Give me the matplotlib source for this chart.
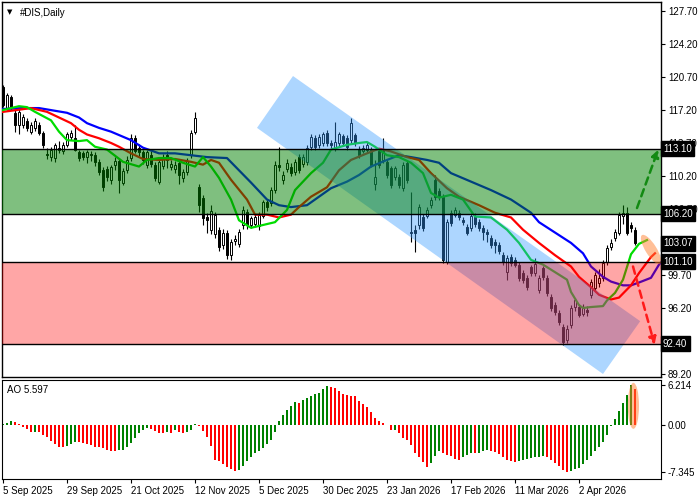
import matplotlib
matplotlib.use('Agg')
import matplotlib.pyplot as plt
from matplotlib.patches import Polygon, Ellipse
from matplotlib.transforms import IdentityTransform
import numpy as np

plt.rcParams['font.family'] = ['Liberation Sans', 'DejaVu Sans']

# daily OHLC, one entry per bar
opens = [119.6, 117.4, 118.6, 116.9, 115.6, 115.6, 116.0, 114.9, 115.3, 115.6,
         114.8, 112.5, 112.2, 112.1, 113.2, 112.8, 113.5, 114.3, 114.2, 112.7,
         112.6, 112.2, 112.5, 112.4, 111.7, 110.8, 110.9, 109.8, 111.4, 111.8,
         109.5, 110.8, 112.1, 114.2, 113.2, 112.7, 111.4, 112.4, 111.4, 109.6,
         111.3, 112.4, 111.2, 110.9, 111.6, 110.0, 110.6, 112.4, 114.9, 109.0,
         107.9, 105.8, 104.5, 104.0, 104.5, 102.9, 104.2, 101.8, 103.3, 103.0,
         105.0, 106.4, 105.0, 105.1, 104.9, 106.0, 107.4, 107.3, 108.7, 111.4,
         109.8, 110.9, 111.2, 110.6, 112.2, 111.5, 111.7, 113.3, 114.2, 113.5,
         113.7, 114.8, 113.7, 113.2, 113.7, 114.4, 114.2, 114.0, 114.5, 113.1,
         112.9, 113.0, 113.0, 109.3, 112.8, 111.9, 111.7, 111.0, 110.1, 110.1,
         108.9, 111.6, 104.2, 104.5, 105.0, 105.9, 106.0, 107.1, 109.8, 108.6,
         108.0, 101.1, 106.3, 106.1, 106.3, 105.5, 104.8, 104.7, 106.0, 105.3,
         104.7, 104.3, 103.6, 103.2, 102.9, 101.8, 100.0, 101.6, 101.3, 100.8,
         99.9, 99.4, 100.5, 99.9, 98.1, 100.4, 99.4, 97.4, 96.5, 95.7,
         94.2, 92.8, 94.4, 96.3, 96.3, 95.6, 96.0, 97.6, 98.3, 98.8,
         99.4, 101.1, 102.7, 103.6, 104.2, 106.0, 106.3, 105.0, 104.5]
highs = [119.9, 119.0, 118.8, 117.2, 117.3, 116.8, 116.3, 115.9, 116.3, 115.9,
         115.0, 113.2, 113.3, 113.7, 113.9, 113.8, 114.9, 115.1, 115.6, 113.0,
         112.9, 113.0, 112.8, 112.7, 112.0, 111.1, 111.3, 111.4, 112.2, 112.1,
         111.0, 112.3, 114.6, 114.5, 113.6, 113.0, 113.0, 112.8, 111.7, 112.0,
         112.5, 112.8, 111.9, 111.8, 111.9, 110.9, 112.1, 115.1, 117.0, 109.4,
         108.2, 106.3, 107.1, 106.4, 104.8, 104.6, 104.5, 103.5, 103.9, 104.6,
         107.0, 106.7, 106.0, 106.2, 106.4, 107.7, 107.8, 109.0, 111.8, 113.3,
         110.7, 112.0, 111.6, 112.0, 112.5, 112.5, 113.5, 114.7, 114.5, 114.6,
         114.9, 115.1, 114.0, 115.9, 114.9, 114.7, 114.5, 116.3, 114.8, 113.4,
         113.5, 113.8, 113.3, 111.9, 113.1, 114.2, 112.0, 111.3, 111.3, 110.4,
         111.7, 111.9, 108.5, 105.0, 107.2, 106.2, 106.9, 108.0, 110.3, 108.9,
         108.3, 105.6, 106.6, 106.9, 106.6, 105.8, 105.1, 106.3, 106.3, 105.6,
         105.0, 104.6, 103.9, 103.5, 103.2, 102.1, 101.8, 101.9, 101.6, 101.1,
         100.2, 99.7, 100.8, 101.5, 99.7, 100.7, 99.7, 97.7, 96.8, 96.0,
         94.5, 94.4, 96.5, 97.3, 96.6, 96.6, 96.4, 99.3, 100.0, 100.3,
         101.3, 102.9, 103.5, 104.6, 106.4, 107.1, 106.9, 105.3, 104.8]
lows = [117.5, 117.2, 117.2, 114.9, 114.6, 115.3, 115.0, 114.6, 115.0, 114.5,
        113.2, 112.0, 111.8, 111.7, 112.6, 112.5, 113.3, 114.0, 112.8, 111.8,
        111.9, 111.6, 111.8, 111.3, 110.3, 108.6, 109.7, 109.4, 110.8, 108.4,
        109.2, 110.5, 111.8, 112.6, 112.3, 111.5, 111.0, 111.2, 109.7, 109.3,
        110.9, 111.0, 110.8, 110.5, 109.4, 109.6, 110.3, 112.1, 114.6, 106.4,
        105.0, 104.2, 104.0, 103.6, 102.2, 102.5, 101.4, 101.3, 102.9, 102.7,
        104.6, 104.6, 104.7, 104.8, 104.5, 105.7, 106.5, 107.0, 108.4, 110.7,
        109.4, 110.6, 110.2, 110.3, 110.5, 111.2, 111.4, 113.0, 113.0, 113.2,
        113.4, 113.4, 113.2, 112.9, 113.4, 113.4, 113.0, 113.7, 113.4, 112.1,
        112.6, 112.7, 111.1, 108.7, 111.0, 111.6, 110.0, 108.9, 109.8, 108.9,
        108.6, 109.5, 103.2, 102.1, 104.6, 104.4, 105.7, 106.8, 107.7, 107.7,
        101.0, 100.9, 104.9, 105.8, 105.5, 105.0, 103.9, 104.4, 104.8, 104.4,
        103.4, 103.2, 102.6, 102.0, 101.9, 100.8, 99.2, 100.7, 100.5, 99.1,
        98.9, 98.1, 99.6, 99.6, 97.8, 99.2, 97.5, 95.9, 95.5, 94.4,
        92.3, 92.5, 94.1, 95.9, 95.2, 95.3, 95.4, 97.3, 98.0, 98.4,
        99.1, 100.8, 102.4, 103.3, 103.9, 105.1, 103.9, 104.3, 102.9]
closes = [117.7, 118.8, 117.5, 115.6, 117.0, 116.5, 115.3, 115.6, 116.0, 114.8,
          113.5, 112.4, 113.0, 113.5, 113.0, 113.5, 114.6, 114.8, 113.0, 112.1,
          112.2, 112.7, 112.4, 111.7, 110.6, 109.0, 110.1, 111.1, 111.8, 109.8,
          110.7, 111.9, 114.2, 112.9, 112.7, 111.9, 112.7, 111.5, 110.0, 111.7,
          112.1, 111.9, 111.5, 111.4, 110.3, 110.6, 111.8, 114.8, 116.3, 107.1,
          105.7, 105.5, 106.5, 106.1, 102.7, 104.2, 101.8, 103.2, 103.5, 104.3,
          106.6, 105.0, 105.7, 105.8, 106.1, 107.4, 106.9, 108.7, 111.4, 111.1,
          110.3, 111.6, 110.5, 111.7, 110.8, 112.2, 113.2, 114.3, 113.3, 114.3,
          114.6, 113.7, 113.5, 113.8, 114.6, 113.7, 113.3, 115.8, 113.7, 112.4,
          113.2, 113.5, 111.4, 110.1, 111.4, 112.9, 110.3, 109.2, 111.0, 109.2,
          111.4, 109.8, 104.3, 104.2, 106.9, 104.7, 106.6, 107.6, 108.0, 108.0,
          101.3, 105.3, 105.2, 106.6, 105.8, 105.3, 104.2, 106.0, 105.1, 104.7,
          104.3, 104.0, 102.9, 102.9, 102.2, 101.1, 101.5, 101.0, 100.8, 99.4,
          99.2, 98.4, 99.9, 100.9, 99.4, 99.5, 97.8, 96.2, 95.8, 94.7,
          92.6, 94.0, 96.2, 97.0, 95.5, 96.3, 95.8, 99.0, 99.7, 99.4,
          101.0, 102.6, 103.1, 104.3, 106.1, 106.3, 104.2, 104.7, 103.07]

# Alligator lines (bar index, price)
jaw_idx = [0, 5, 9, 16, 19, 21, 24, 27, 32, 35, 39, 43, 47, 51, 56, 59, 62, 66, 69, 72,
           76, 79, 82, 86, 89, 92, 96, 99, 102, 106, 109, 112, 117, 122, 127, 132, 134, 138, 142, 145,
           147, 150, 152, 155, 157, 159, 162, 164, 166]
jaw_val = [117.3, 117.4, 117.4, 116.9, 116.4, 115.8, 115.3, 114.9, 114.0, 113.2,
           112.6, 112.6, 112.4, 112.2, 112.1, 110.8, 109.5, 107.7, 107.1, 106.9,
           107.1, 108.0, 108.9, 109.6, 110.3, 111.2, 111.9, 112.4, 112.2, 111.9,
           111.6, 110.5, 109.6, 108.7, 107.7, 106.3, 105.3, 104.2, 103.1, 102.0,
           100.6, 99.5, 99.0, 98.6, 98.6, 98.9, 99.4, 100.8, 101.8]
teeth_idx = [0, 7, 11, 14, 17, 19, 21, 24, 27, 29, 32, 35,
             39, 43, 47, 50, 52, 54, 57, 61, 63, 66, 69, 72, 74, 77, 81, 84, 87, 91,
             94, 97, 101, 104, 107, 111, 114, 119, 123, 127, 130, 134, 138, 142, 144, 147,
             149, 152, 154, 157, 159, 162, 163]
teeth_val = [117.0, 117.4, 117.0, 116.4, 115.8, 115.1, 114.6, 114.2, 113.7, 113.3, 112.6, 112.0,
             111.9, 112.0, 111.7, 111.4, 111.9, 111.6, 109.8, 107.7, 106.1, 106.1, 105.8, 106.1,
             106.9, 108.0, 109.0, 110.8, 111.9, 112.6, 113.1, 112.8, 112.2, 111.9, 110.5, 108.9,
             108.0, 107.1, 106.3, 105.8, 104.5, 103.1, 101.8, 100.6, 99.5, 98.4, 97.6, 97.1,
             97.3, 98.6, 99.9, 101.6, 102.0]
lips_idx = [0, 4, 6, 8, 12, 14, 16, 19, 21, 23, 26, 30, 34, 36, 39, 42, 45, 48, 50, 52,
            53, 54, 57, 59, 62, 65, 68, 71, 73, 77, 80, 82, 86, 89, 91, 93, 96, 99, 102, 105,
            107, 109, 112, 115, 118, 122, 126, 129, 132, 135, 138, 141, 142, 144, 145, 147, 150, 151,
            153, 155, 157, 159, 161]
lips_val = [117.2, 117.6, 117.5, 117.0, 116.1, 114.9, 114.0, 113.9, 114.0, 113.3,
            113.0, 111.7, 111.2, 111.9, 112.1, 112.1, 111.6, 111.2, 112.2, 111.2,
            110.6, 110.0, 107.7, 105.5, 104.7, 105.0, 105.3, 106.6, 108.7, 110.5,
            111.6, 113.0, 113.5, 113.7, 113.8, 113.3, 112.4, 112.2, 111.6, 110.5,
            108.4, 107.9, 108.2, 107.7, 105.9, 105.8, 104.5, 103.1, 101.3, 100.8,
            100.0, 99.2, 97.9, 96.5, 96.2, 96.3, 96.4, 97.0, 97.8, 99.2, 101.9, 103.0, 103.4]

# Awesome Oscillator
ao_values = [0.21, 0.36, 0.56, 0.41, 0.15, -0.36, -0.56, -1.08, -1.02, -1.10,
             -1.59, -1.95, -2.46, -2.97, -3.38, -3.40, -3.23, -2.97, -2.62, -2.72,
             -2.77, -2.97, -3.18, -3.49, -3.52, -3.64, -3.90, -4.00, -4.02, -3.99,
             -3.98, -3.38, -2.77, -2.10, -1.33, -0.82, -0.46, -0.56, -0.92, -1.18,
             -1.19, -1.08, -1.18, -0.82, -1.08, -1.18, -1.08, -0.82, 0.21, -0.21,
             -0.92, -1.95, -3.28, -5.44, -5.69, -6.05, -6.56, -6.87, -7.18, -7.08,
             -6.46, -5.69, -5.03, -4.41, -4.05, -3.64, -3.03, -2.36, -1.08, 0.62,
             1.49, 2.36, 3.03, 3.54, 3.50, 3.90, 4.21, 4.56, 4.82, 5.08,
             5.59, 6.10, 6.00, 5.74, 5.33, 4.92, 4.72, 4.55, 4.46, 3.79,
             3.28, 2.87, 2.00, 1.08, 0.62, 0.36, 0.05, -0.82, -0.80, -1.23,
             -2.00, -2.36, -3.13, -4.31, -5.03, -5.79, -6.56, -5.95, -4.82, -4.05,
             -4.41, -4.77, -4.92, -5.28, -5.49, -5.08, -4.67, -4.31, -4.41, -4.31,
             -4.05, -3.90, -4.05, -4.15, -4.56, -5.08, -5.44, -5.59, -5.79, -5.59,
             -5.44, -5.33, -5.23, -5.08, -5.03, -4.92, -5.08, -5.44, -5.95, -6.46,
             -7.08, -7.345, -7.20, -6.87, -6.72, -6.10, -5.44, -4.82, -4.05, -3.38,
             -2.62, -1.54, -0.21, 0.97, 2.15, 3.38, 4.72, 6.214, 5.597]

date_ticks = [0, 16, 32, 48, 64, 80, 96, 112, 128, 144]
date_labels = ['5 Sep 2025', '29 Sep 2025', '21 Oct 2025', '12 Nov 2025', '5 Dec 2025',
               '30 Dec 2025', '23 Jan 2026', '17 Feb 2026', '11 Mar 2026', '2 Apr 2026']
price_ticks = [127.70, 124.20, 120.70, 117.20, 113.70, 110.20, 106.70, 103.20, 99.70, 96.20, 92.70, 89.20]
level_prices = [113.10, 106.20, 101.10, 92.40]
last_price = 103.07

o = np.array(opens)
h = np.array(highs)
l = np.array(lows)
c = np.array(closes)
x = np.arange(len(c))

fig = plt.figure(figsize=(7, 5), dpi=100)
ax = fig.add_axes([2 / 700, 1 - 377 / 500, 659 / 700, 375 / 500])
ax_ao = fig.add_axes([2 / 700, 1 - 479 / 500, 659 / 700, 99 / 500])

xlim = (-0.25, 164.5)
ax.set_xlim(*xlim)
ax.set_ylim(88.88, 128.65)

# candles
up = c >= o
ax.vlines(x, l, h, color='black', lw=0.8, zorder=2)
body = np.maximum(np.abs(c - o), 0.06)
ax.bar(x, body, bottom=np.minimum(o, c), width=0.62,
       color=np.where(up, 'white', 'black'), edgecolor='black', linewidth=0.7, zorder=3)

# alligator
ax.plot(jaw_idx, jaw_val, color='#0000ff', lw=1.6, zorder=4)
ax.plot(teeth_idx, teeth_val, color='#ff0000', lw=1.6, zorder=4)
ax.plot(lips_idx, lips_val, color='#00dd00', lw=1.6, zorder=4)

# descending channel
channel = Polygon([(63.5, 115.3), (72.5, 120.8), (159.3, 94.8), (150.0, 89.2)],
                  closed=True, facecolor='#3399ff', alpha=0.4, lw=0, zorder=5)
ax.add_patch(channel)

# support / resistance zones
ax.axhspan(level_prices[1], level_prices[0], color='#008000', alpha=0.5, lw=0, zorder=6)
ax.axhspan(level_prices[3], level_prices[2], color='#ff0000', alpha=0.35, lw=0, zorder=6)
for p in level_prices:
    ax.axhline(p, color='black', lw=1, zorder=7)

# scenario arrows
ax.annotate('', xy=(163.8, 113.0), xytext=(158.5, 106.8),
            arrowprops=dict(arrowstyle='-|>', color='#138a13', lw=1.8, linestyle=(0, (3, 2)),
                            mutation_scale=11, shrinkA=0, shrinkB=0), zorder=8)
ax.annotate('', xy=(162.9, 92.3), xytext=(157.5, 100.6),
            arrowprops=dict(arrowstyle='-|>', color='#ff1a1a', lw=1.8, linestyle=(0, (3, 2)),
                            mutation_scale=11, shrinkA=0, shrinkB=0), zorder=8)

# highlight on the last bars
cx, cy = ax.transData.transform((162.0, 102.4))
ax.add_patch(Ellipse((cx, cy), width=34, height=11, angle=-58, transform=IdentityTransform(),
                     facecolor='#ff8030', alpha=0.5, lw=0, zorder=8))

# tick labels hidden behind the level boxes are left blank
hidden = (103.20, 92.70)
ax.yaxis.tick_right()
ax.set_yticks(price_ticks)
ax.set_yticklabels(['' if t in hidden else '%.2f' % t for t in price_ticks])
ax.tick_params(axis='y', length=3, width=0.8, labelsize=7, pad=2)
ax.set_xticks([])
for s in ax.spines.values():
    s.set_linewidth(1)

for p in level_prices + [last_price]:
    ax.text(1.003, p, '%.2f' % p, transform=ax.get_yaxis_transform(), ha='left', va='center',
            color='white', fontsize=7, zorder=10, clip_on=False,
            bbox=dict(boxstyle='square,pad=0.25', fc='black', ec='black'))

ax.text(0.008, 0.982, '\u25bc', transform=ax.transAxes, fontsize=5, ha='left', va='top',
        family='DejaVu Sans')
ax.text(0.027, 0.985, '#DIS,Daily', transform=ax.transAxes, fontsize=7, ha='left', va='top')

# AO panel
ao = np.array(ao_values)
prev = np.concatenate([[ao[0] - 1], ao[:-1]])
ao_colors = np.where(ao > prev, '#008000', '#ff0000')
ax_ao.bar(x, ao, width=0.7, color=ao_colors, lw=0, zorder=2)
ax_ao.set_xlim(*xlim)
ax_ao.set_ylim(-8.45, 7.04)
ax_ao.add_patch(Ellipse((157.6, 3.0), width=2.8, height=7.2, facecolor='#ff8030',
                        alpha=0.5, lw=0, zorder=3))
ax_ao.yaxis.tick_right()
ax_ao.set_yticks([6.214, 0.0, -7.345])
ax_ao.set_yticklabels(['6.214', '0.00', '-7.345'])
ax_ao.tick_params(axis='y', length=3, width=0.8, labelsize=7, pad=2)
ax_ao.set_xticks(date_ticks)
ax_ao.set_xticklabels(date_labels)
ax_ao.tick_params(axis='x', length=3, width=0.8, labelsize=7, pad=2)
for lbl in ax_ao.get_xticklabels():
    lbl.set_ha('left')
ax_ao.text(0.008, 0.95, 'AO 5.597', transform=ax_ao.transAxes, fontsize=7, ha='left', va='top')

fig.savefig('out.png', dpi=100)
